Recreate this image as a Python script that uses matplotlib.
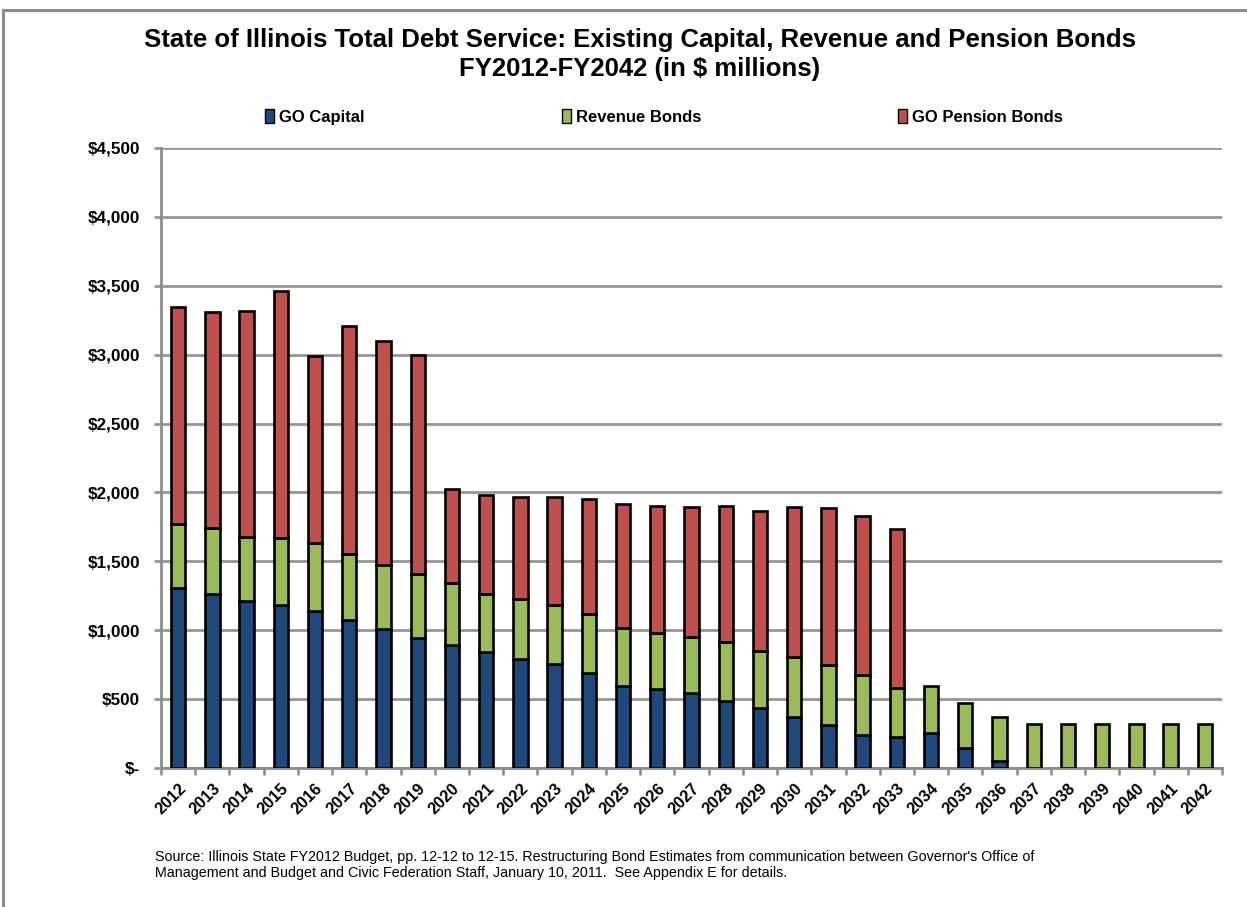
import matplotlib
matplotlib.use("Agg")
import matplotlib.pyplot as plt
from matplotlib.patches import Rectangle
from matplotlib.ticker import FixedLocator
import numpy as np

years = [str(y) for y in range(2012, 2043)]
go_capital = [1304, 1263, 1214, 1183, 1142, 1074, 1009, 946, 893, 845, 789, 752, 687,
              595, 571, 542, 488, 433, 373, 312, 240, 227, 251, 148, 50,
              0, 0, 0, 0, 0, 0]
revenue_bonds = [467, 477, 465, 489, 489, 476, 468, 460, 447, 415, 435, 431, 428,
                 419, 411, 411, 429, 416, 435, 436, 435, 351, 347, 326, 323,
                 320, 320, 320, 320, 320, 320]
go_pension = [1574, 1567, 1638, 1793, 1359, 1658, 1622, 1592, 683, 721, 745, 786, 835,
              900, 920, 939, 985, 1019, 1084, 1137, 1156, 1154, 0, 0, 0,
              0, 0, 0, 0, 0, 0]
series_names = ["GO Capital", "Revenue Bonds", "GO Pension Bonds"]
y_ticks = [0, 500, 1000, 1500, 2000, 2500, 3000, 3500, 4000, 4500]
y_labels = ["$-", "$500", "$1,000", "$1,500", "$2,000", "$2,500", "$3,000",
            "$3,500", "$4,000", "$4,500"]

colors = ["#1F497D", "#9BBB59", "#C0504D"]
plt.rcParams['font.family'] = ['Liberation Sans', 'DejaVu Sans']

W, H = 1247, 907
fig = plt.figure(figsize=(W / 100, H / 100), dpi=100)

# border of the chart area
fig.patches.append(Rectangle((3 / W, -0.1), 1.2, (H - 10) / H + 0.1,
                             transform=fig.transFigure, fill=False,
                             edgecolor="#8C8C8C", linewidth=2.2))

ax = fig.add_axes([161 / W, (H - 768) / H, (1222 - 161) / W, (768 - 148) / H])
x = np.arange(len(years))
bw = 0.42
lw = 1.9
b1 = ax.bar(x, go_capital, bw, color=colors[0], edgecolor="black", linewidth=lw,
            label=series_names[0], zorder=3)
bottom2 = np.array(go_capital)
b2 = ax.bar(x, revenue_bonds, bw, bottom=bottom2, color=colors[1], edgecolor="black",
            linewidth=lw, label=series_names[1], zorder=3)
bottom3 = bottom2 + np.array(revenue_bonds)
b3 = ax.bar(x, go_pension, bw, bottom=bottom3, color=colors[2], edgecolor="black",
            linewidth=lw, label=series_names[2], zorder=3)
for r, v in zip(b3, go_pension):
    if v == 0:
        r.set_visible(False)
for r, v in zip(b1, go_capital):
    if v == 0:
        r.set_visible(False)

ax.set_xlim(-0.5, len(years) - 0.5)
ax.set_ylim(0, 4500)
ax.set_yticks(y_ticks)
ax.set_yticklabels(y_labels, fontsize=12.3, fontweight="bold")
ax.yaxis.grid(True, color="#969696", linewidth=2.0, zorder=0)
ax.set_axisbelow(True)
ax.tick_params(axis="y", length=5, width=2.0, color="#969696", pad=10)

ax.set_xticks(x)
ax.set_xticklabels(years, fontsize=11.8, fontweight="bold", rotation=45,
                   ha="right", rotation_mode="anchor")
ax.tick_params(axis="x", which="major", length=0, pad=9)
ax.xaxis.set_minor_locator(FixedLocator(np.arange(-0.5, len(years), 1.0)))
ax.tick_params(axis="x", which="minor", length=5, width=1.8, color="#8C8C8C",
               direction="out")

for s in ["top", "right"]:
    ax.spines[s].set_visible(False)
ax.spines["left"].set_color("#8C8C8C")
ax.spines["left"].set_linewidth(2.0)
ax.spines["bottom"].set_color("#8C8C8C")
ax.spines["bottom"].set_linewidth(2.0)

fig.text(640 / W, 1 - 40 / H,
         "State of Illinois Total Debt Service: Existing Capital, Revenue and Pension Bonds",
         ha="center", va="center", fontsize=18.5, fontweight="bold")
fig.text(640 / W, 1 - 69 / H, "FY2012-FY2042 (in $ millions)",
         ha="center", va="center", fontsize=18.5, fontweight="bold")

leg = fig.legend(handles=[b1, b2, b3], labels=series_names, loc="center",
                 bbox_to_anchor=(664 / W, 1 - 117 / H), ncol=3, frameon=False,
                 prop={"weight": "bold", "size": 12}, handlelength=0.55,
                 handleheight=0.9, handletextpad=0.3, columnspacing=11.8)
for h in leg.legend_handles:
    h.set_linewidth(1.0)

fig.text(155 / W, 1 - 857 / H,
         "Source: Illinois State FY2012 Budget, pp. 12-12 to 12-15. Restructuring Bond Estimates from communication between Governor's Office of",
         ha="left", va="center", fontsize=10.3)
fig.text(155 / W, 1 - 873 / H,
         "Management and Budget and Civic Federation Staff, January 10, 2011.  See Appendix E for details.",
         ha="left", va="center", fontsize=10.3)

fig.savefig("out.png", dpi=100)
